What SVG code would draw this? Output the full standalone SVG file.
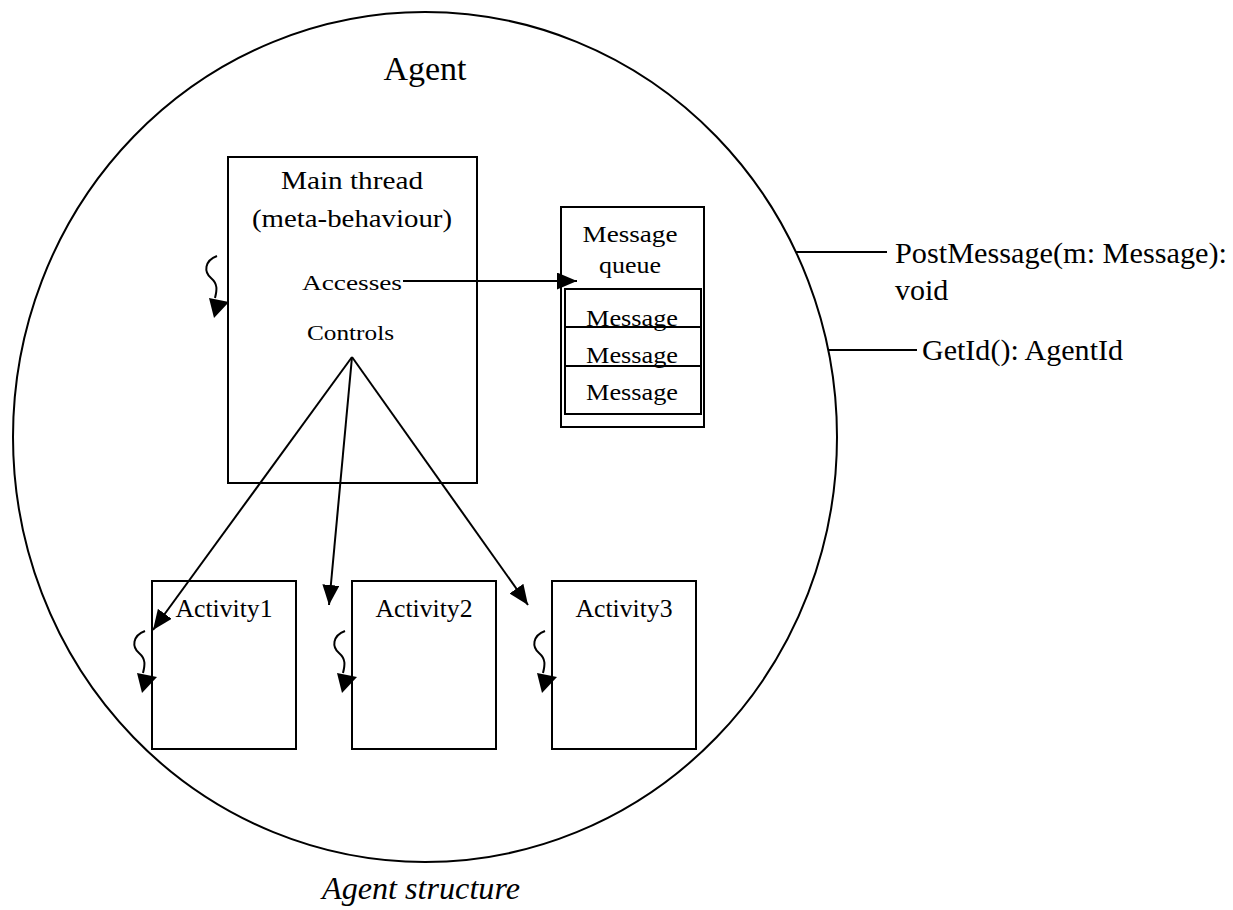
<svg xmlns="http://www.w3.org/2000/svg" xmlns:xlink="http://www.w3.org/1999/xlink" width="1233" height="910" viewBox="0 0 1233 910">
  <style>
    .box { fill: #fff; stroke: #000; stroke-width: 2; }
    .ln { fill: none; stroke: #000; stroke-width: 2; }
    .t { font-family: "Liberation Serif", "Times New Roman", serif; fill: #000; }
    .mid { text-anchor: middle; }
  </style>
  <defs>
    <marker id="arrow" markerUnits="userSpaceOnUse" markerWidth="21" markerHeight="18" refX="20" refY="8.5" orient="auto">
      <path d="M0,0 L20,8.5 L0,17 z" fill="#000"/>
    </marker>
    <!-- thread glyph: wavy line ending in a filled arrowhead, tip at origin -->
    <g id="thread">
      <path class="ln" d="M3,-62 C-10,-57 -10,-46 -3,-40 C4,-34 3,-28 1,-20"/>
      <polygon points="-5,-20 15,-16 0,0" fill="#000"/>
    </g>
  </defs>

  <!-- agent boundary -->
  <g id="agent">
    <ellipse class="ln" cx="425" cy="437" rx="412" ry="425"/>
    <text class="t mid" x="425" y="80" font-size="34">Agent</text>
  </g>

  <g id="main-thread">
    <rect class="box" x="228" y="157" width="249" height="326"/>
    <text class="t mid" x="352" y="189" font-size="26" textLength="142" lengthAdjust="spacingAndGlyphs">Main thread</text>
    <text class="t mid" x="352" y="227" font-size="26" textLength="200" lengthAdjust="spacingAndGlyphs">(meta-behaviour)</text>
    <text class="t" x="302" y="290" font-size="22" textLength="100" lengthAdjust="spacingAndGlyphs">Accesses</text>
    <text class="t" x="307" y="340" font-size="22" textLength="87" lengthAdjust="spacingAndGlyphs">Controls</text>
    <use xlink:href="#thread" x="214" y="318"/>
  </g>

  <g id="message-queue">
    <rect class="box" x="561" y="207" width="143" height="220"/>
    <text class="t mid" x="630" y="242" font-size="23" textLength="95" lengthAdjust="spacingAndGlyphs">Message</text>
    <text class="t mid" x="630" y="273" font-size="23" textLength="62" lengthAdjust="spacingAndGlyphs">queue</text>
    <rect class="box" x="565" y="289" width="136" height="38"/>
    <text class="t mid" x="632" y="326" font-size="23" textLength="92" lengthAdjust="spacingAndGlyphs">Message</text>
    <text class="t mid" x="632" y="363" font-size="23" textLength="92" lengthAdjust="spacingAndGlyphs">Message</text>
    <line class="ln" x1="565" y1="327" x2="701" y2="327"/>
    <line class="ln" x1="565" y1="327" x2="565" y2="366"/>
    <line class="ln" x1="701" y1="327" x2="701" y2="366"/>
    <rect class="ln" x="565" y="366" width="136" height="48"/>
    <text class="t mid" x="632" y="400" font-size="23" textLength="92" lengthAdjust="spacingAndGlyphs">Message</text>
  </g>

  <g id="activity1">
    <rect class="box" x="152" y="581" width="144" height="168"/>
    <text class="t mid" x="224" y="617" font-size="25" textLength="97" lengthAdjust="spacingAndGlyphs">Activity1</text>
    <use xlink:href="#thread" x="142" y="693"/>
  </g>
  <g id="activity2">
    <rect class="box" x="352" y="581" width="144" height="168"/>
    <text class="t mid" x="424" y="617" font-size="25" textLength="97" lengthAdjust="spacingAndGlyphs">Activity2</text>
    <use xlink:href="#thread" x="342" y="693"/>
  </g>
  <g id="activity3">
    <rect class="box" x="552" y="581" width="144" height="168"/>
    <text class="t mid" x="624" y="617" font-size="25" textLength="97" lengthAdjust="spacingAndGlyphs">Activity3</text>
    <use xlink:href="#thread" x="542" y="693"/>
  </g>

  <g id="interfaces">
    <text class="t" x="895" y="263" font-size="30" textLength="332" lengthAdjust="spacingAndGlyphs">PostMessage(m: Message):</text>
    <text class="t" x="895" y="300" font-size="30">void</text>
    <text class="t" x="922" y="360" font-size="30" textLength="201" lengthAdjust="spacingAndGlyphs">GetId(): AgentId</text>
  </g>

  <g id="connectors">
    <line class="ln" x1="403" y1="281" x2="577" y2="281" marker-end="url(#arrow)"/>
    <line class="ln" x1="352" y1="357" x2="153" y2="630" marker-end="url(#arrow)"/>
    <line class="ln" x1="352" y1="357" x2="329" y2="605" marker-end="url(#arrow)"/>
    <line class="ln" x1="352" y1="357" x2="528" y2="605" marker-end="url(#arrow)"/>
    <line class="ln" x1="796" y1="252" x2="887" y2="252"/>
    <line class="ln" x1="829" y1="350" x2="917" y2="350"/>
  </g>

  <text class="t" x="322" y="899" font-size="31" font-style="italic" textLength="198" lengthAdjust="spacingAndGlyphs">Agent structure</text>
</svg>
